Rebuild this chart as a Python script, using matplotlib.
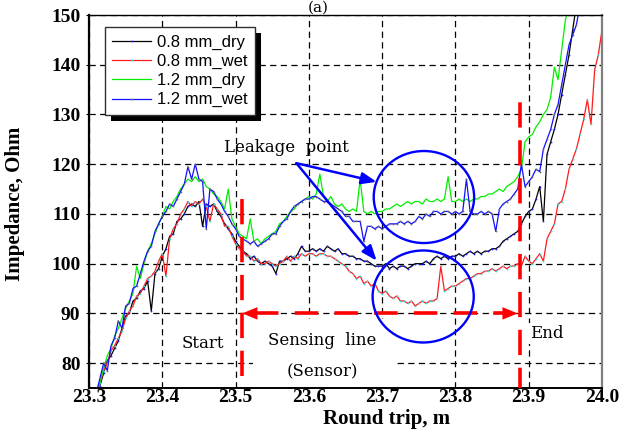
import numpy as np
import matplotlib
matplotlib.use("Agg")
import matplotlib.pyplot as plt
from matplotlib.patches import Ellipse, Rectangle
from matplotlib.transforms import Bbox

# ---------------- data (sampled every 5 mm of round trip) ----------------
x_start = 23.300
x_step = 0.005

dry_08 = [69, 71, 73.5, 75.5, 78, 80.5, 81.5, 83, 84.5, 87,
          89.5, 90, 92.5, 93, 94.5, 95, 96.5, 90.5, 98, 99,
          101.5, 103, 105.5, 106, 108.5, 109, 110, 111.5, 112, 111.5,
          112.5, 107.5, 112, 111.5, 112, 110.5, 109.5, 108, 107, 106,
          104.5, 103.5, 102.5, 102, 101, 101.5, 100.5, 100, 100.5, 100,
          99.5, 98, 100.5, 100.5, 101, 101.5, 101, 102, 103.5, 102.5,
          102.5, 103, 102.5, 103, 102.5, 103.5, 103, 102.5, 103, 102,
          102, 101.5, 101.5, 101, 101, 100.5, 100.5, 100, 99.5, 99.5,
          99.5, 100, 99, 99.5, 99, 99.5, 99.5, 99, 99.5, 100,
          100, 100, 100.5, 100, 101, 101.5, 101, 101.5, 101, 101.5,
          101.5, 102, 101.5, 102, 102.5, 102, 102.5, 102, 102.5, 102.5,
          103, 103, 103.5, 104.5, 105, 105.5, 106, 106.5, 108, 109.5,
          110.5, 111, 113, 115.5, 108.5, 122, 124.5, 127, 130, 134,
          138, 142, 147, 152, 156, 160, 163, 166, 170, 173, 176]

wet_08 = [70, 72, 74, 76, 78.5, 80, 82.5, 83.5, 85, 86.5,
          89, 90.5, 91.5, 93.5, 94, 95.5, 97, 97.5, 98.5, 100.5,
          102, 97.5, 105, 107, 108, 110, 111, 112.5, 111.5, 112.5,
          112, 113, 111.5, 108.5, 112, 111, 110, 107.5, 107.5, 105.5,
          104, 103, 102.5, 101.5, 101.5, 100.5, 101, 100, 100, 100.5,
          100, 99.5, 100, 100.5, 101.5, 100.5, 101.5, 101, 102, 101.5,
          102, 102, 101.5, 102, 102, 101.5, 101.5, 101, 100.5, 100,
          99.5, 98.5, 98, 97, 97.5, 96, 96.5, 95.5, 96, 94.5,
          94, 94.5, 93.5, 93, 93.5, 92.5, 92.5, 92, 92.5, 91.5,
          92, 92.5, 92, 92.5, 92.5, 93, 99.5, 94.5, 95, 95.5,
          95.5, 96, 96.5, 97, 97, 97.5, 98, 98, 98.5, 98.5,
          99, 98.5, 99, 99.5, 99, 99.5, 99.5, 100, 99.5, 101.5,
          100.5, 100, 101, 102, 100.5, 105, 106.5, 108, 112, 112.5,
          115, 119, 121, 123, 126, 129, 133, 128, 139, 142, 147]

dry_12 = [68, 70.5, 73, 76, 79, 81.5, 83, 85.5, 87, 89,
          91, 92.5, 94, 99.5, 97, 100, 102.5, 104, 106, 108,
          109.5, 111.5, 111, 112.5, 113.5, 115, 116, 117, 116.5, 117.5,
          116.5, 117, 115.5, 115, 114, 113.5, 112.5, 111, 115, 109,
          107.5, 106, 105.5, 105, 109, 104.5, 105, 104, 105, 105.5,
          106, 106.5, 108, 108.5, 109.5, 110.5, 111, 112, 112.5, 113,
          113.5, 113, 114, 118, 113.5, 112.5, 113.5, 112, 111.5, 112,
          111, 110.5, 111, 110.5, 117, 110.5, 110, 110.5, 110, 110.5,
          110.5, 111, 111, 111.5, 112, 111.5, 112, 112.5, 112, 112.5,
          112.5, 112, 113, 112.5, 112.5, 113, 112.5, 113, 117.5, 112.5,
          112.5, 113, 112.5, 113, 112.5, 113, 113, 113.5, 113.5, 114,
          114, 114.5, 115, 114.5, 115.5, 116, 116.5, 117.5, 119, 124.5,
          125.5, 126, 127.5, 128.5, 130, 131, 133.5, 139.5, 137, 143,
          149, 152, 156, 160, 164, 168, 171, 174, 177, 180, 183]

wet_12 = [69, 71, 74, 77, 80, 78.5, 83.5, 85, 88.5, 87,
          91.5, 92, 95, 95.5, 98, 100.5, 102.5, 103.5, 106.5, 108,
          109.5, 110.5, 112, 111.5, 113, 114.5, 116, 119.5, 117, 120,
          117, 116.5, 107, 115, 114.5, 113, 112, 110.5, 109.5, 108,
          107, 105.5, 105, 104.5, 104, 104.5, 103.5, 104, 104.5, 105,
          106, 106, 107.5, 108.5, 109, 110.5, 111.5, 112, 112.5, 113,
          113, 113.5, 113.5, 113, 112.5, 112.5, 112, 111.5, 111, 110.5,
          109.5, 109.5, 108.5, 108.5, 108.5, 104.5, 107.5, 107.5, 107, 107.5,
          107, 107.5, 108, 108, 108, 108.5, 108, 108.5, 108, 108.5,
          109.5, 109, 110, 109.5, 110.5, 110.5, 110, 110.5, 110.5, 110,
          110.5, 110, 110.5, 117, 110.5, 110, 110, 110.5, 110, 110.5,
          110, 106.5, 111, 112, 112.5, 113, 114, 115, 120, 115.5,
          116.5, 117.5, 119, 118.5, 123, 125, 127, 130, 132, 136,
          140, 144, 146, 148, 152, 156, 159, 162, 165, 168, 171]

series_labels = ["0.8 mm_dry", "0.8 mm_wet", "1.2 mm_dry", "1.2 mm_wet"]
x_ticks = [23.3, 23.4, 23.5, 23.6, 23.7, 23.8, 23.9, 24.0]
y_ticks = [80, 90, 100, 110, 120, 130, 140, 150]

sensor_start = 23.509
sensor_end = 23.888

x = np.round(x_start + x_step * np.arange(len(dry_08)), 3)

# ---------------- figure ----------------
W, H = 634, 441
fig = plt.figure(figsize=(W / 100, H / 100), dpi=100)
ax = fig.add_axes([89 / W, 1 - 388 / H, 513 / W, 373 / H])
ax.set_xlim(23.3, 24.0)
ax.set_ylim(75, 150)
ax.set_axisbelow(True)

serif_bold = dict(family="Liberation Serif", weight="bold")
ax.set_xticks(x_ticks)
ax.set_yticks(y_ticks)
ax.set_xticklabels([f"{t:.1f}" for t in x_ticks], fontsize=14, **serif_bold)
ax.set_yticklabels([f"{t:d}" for t in y_ticks], fontsize=14, **serif_bold)
ax.tick_params(axis="y", direction="out", length=2.2, width=0.8, pad=4)
ax.tick_params(axis="x", direction="out", length=0, pad=1)
ax.grid(True, color="black", linestyle=(0, (5, 3.5)), linewidth=0.9)

for side in ["left", "bottom", "top"]:
    ax.spines[side].set_color("black")
ax.spines["left"].set_linewidth(1.6)
ax.spines["bottom"].set_linewidth(1.4)
ax.spines["top"].set_linewidth(1.0)
ax.spines["right"].set_color("#808080")
ax.spines["right"].set_linewidth(1.6)

ax.set_xlabel("Round trip, m", fontsize=15, **serif_bold)
ax.xaxis.set_label_coords(0.581, -0.057)
ax.set_ylabel("Impedance, Ohm", fontsize=15, **serif_bold)
ax.yaxis.set_label_coords(-0.125, 0.493)

# white backing behind the "Sensing line" label (hides grid)
ax.add_patch(Rectangle((23.524, 75), 0.193, 13.8, facecolor="white",
                       edgecolor="none", zorder=1))

lw = 0.9
ax.plot(x, dry_08, color="black", lw=lw, marker="o", ms=1.3, mec="none",
        mfc="#2020ff", label=series_labels[0], zorder=2)
ax.plot(x, wet_08, color="#ff1a1a", lw=lw, marker="o", ms=1.3, mec="none",
        mfc="#33e0e0", label=series_labels[1], zorder=2)
ax.plot(x, dry_12, color="#00ee00", lw=lw, label=series_labels[2], zorder=2)
ax.plot(x, wet_12, color="#1010ff", lw=lw, marker="o", ms=1.3, mec="none",
        mfc="#707070", label=series_labels[3], zorder=2)

# red dashed markers for start / end of sensing line
red = "#ff0000"
ax.plot([sensor_start, sensor_start], [77.5, 113.5], color=red, lw=2.6,
        linestyle=(0, (7.0, 3.5)), zorder=3)
ax.plot([sensor_end, sensor_end], [74, 134], color=red, lw=2.6,
        linestyle=(0, (7.0, 3.5)), zorder=3, clip_on=True)
ax.plot([sensor_start + 0.018, sensor_end - 0.018], [90, 90], color=red,
        lw=2.6, linestyle=(0, (6.5, 4.5)), zorder=3)
for tip, tail in [(sensor_start, sensor_start + 0.03),
                  (sensor_end - 0.003, sensor_end - 0.033)]:
    ax.annotate("", xy=(tip, 90), xytext=(tail, 90),
                arrowprops=dict(arrowstyle="-|>,head_length=1.1,head_width=0.45",
                                color=red, lw=0, shrinkA=0, shrinkB=0),
                zorder=3)

# leakage ellipses and arrows
blue = "#0000ff"
ax.add_patch(Ellipse((23.757, 113.4), 0.137, 18.5, fill=False,
                     edgecolor=blue, lw=1.7, zorder=4))
ax.add_patch(Ellipse((23.756, 93.4), 0.138, 18.5, fill=False,
                     edgecolor=blue, lw=1.7, zorder=4))
for tip in [(23.6925, 116.45), (23.6925, 100.6)]:
    ax.annotate("", xy=tip, xytext=(23.583, 120.2),
                arrowprops=dict(arrowstyle="-|>,head_length=0.9,head_width=0.35",
                                color=blue, lw=1.8, shrinkA=0, shrinkB=0),
                zorder=4)

txt = dict(family="DejaVu Serif", fontsize=12, color="black")
ax.text(23.569, 123.3, "Leakage  point", ha="center", va="center", zorder=5, **txt)
ax.text(23.456, 84.0, "Start", ha="center", va="center", zorder=5, **txt)
ax.text(23.618, 84.6, "Sensing  line", ha="center", va="center", zorder=5, **txt)
ax.text(23.618, 78.2, "(Sensor)", ha="center", va="center", zorder=5, **txt)
ax.text(23.925, 86.0, "End", ha="center", va="center", zorder=5,
        bbox=dict(facecolor="white", edgecolor="none", pad=1.5), **txt)

fig.text(318 / W, 1 - 12 / H, "(a)", ha="center", va="baseline",
         family="DejaVu Serif", fontsize=11)

# legend with a solid black drop shadow
leg = ax.legend(loc="upper left", bbox_to_anchor=(0.031, 0.968),
                borderaxespad=0, frameon=True, fancybox=False,
                framealpha=1, edgecolor="#303030", handlelength=2.3,
                handletextpad=0.35, labelspacing=0.25, borderpad=0.45,
                numpoints=1, prop=dict(family="Liberation Sans", size=12))
leg.get_frame().set_linewidth(1.0)
leg.set_zorder(6)
fig.canvas.draw()
bb = leg.get_window_extent()
shadow_bb = Bbox.from_extents(bb.x0 + 6, bb.y0 - 6, bb.x1 + 6, bb.y1 - 6)
inv = ax.transAxes.inverted()
sb = inv.transform_bbox(shadow_bb)
ax.add_patch(Rectangle((sb.x0, sb.y0), sb.width, sb.height,
                       transform=ax.transAxes, facecolor="black",
                       edgecolor="none", zorder=5.5, clip_on=False))

fig.savefig("out.png", dpi=100)
